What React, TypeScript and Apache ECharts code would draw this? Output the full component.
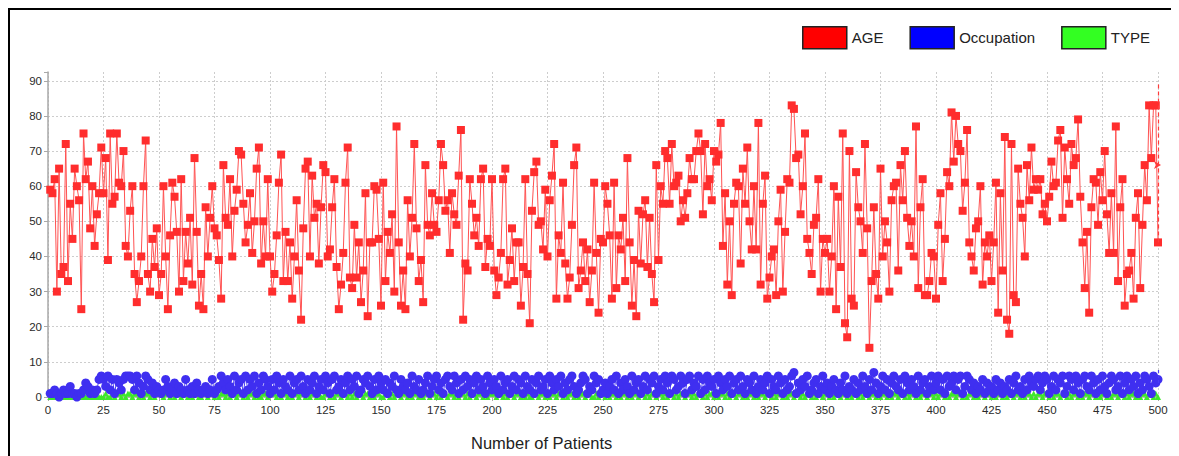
import React, { useEffect, useRef } from 'react';
import * as echarts from 'echarts';

// AGE per patient (patients 1..500)
const ageValues = [
  59,58,62,30,65,35,37,72,33,55,45,65,60,56,25,75,62,67,48,60,43,52,58,71,58,68,39,75,55,57,75,61,60,70,43,40,53,60,35,27,33,40,60,73,35,30,45,37,48,29,
  35,60,40,25,46,61,57,47,30,62,33,47,38,51,32,68,47,26,35,25,54,40,51,60,48,46,39,28,66,51,49,62,40,53,59,70,69,55,44,49,58,41,50,65,71,38,
  50,40,62,40,30,35,46,61,69,33,47,33,44,28,40,56,36,22,48,65,67,40,63,51,55,38,54,66,64,40,42,54,62,37,25,32,41,61,71,34,31,49,34,44,27,36,58,23,44,
  44,60,59,45,26,61,33,47,41,52,30,77,44,26,36,25,56,40,51,72,48,33,39,27,66,49,46,58,49,47,56,72,66,53,56,41,58,52,49,63,76,22,38,36,62,
  55,46,51,43,62,65,37,45,43,62,36,29,34,41,62,65,32,39,48,33,44,44,26,37,62,35,21,53,64,67,49,50,42,59,40,56,63,72,28,46,41,61,38,28,34,49,66,71,31,36,44,33,42,27,
  36,61,41,24,45,44,60,55,46,28,61,31,46,42,51,33,68,44,26,39,23,53,38,52,56,37,51,35,27,66,39,60,55,70,68,55,72,60,61,63,50,56,51,58,68,62,62,70,75,
  70,52,72,60,62,56,70,67,69,78,43,58,32,50,29,55,61,60,38,65,55,71,50,42,60,42,78,32,55,63,28,34,40,42,29,50,59,30,47,62,61,83,82,68,69,52,60,75,45,41,35,
  49,51,62,30,45,41,45,30,40,60,25,57,37,75,21,17,70,28,26,64,54,50,41,72,48,14,33,54,35,28,65,40,50,44,30,56,60,61,36,66,56,70,51,43,50,40,77,31,54,62,
  29,29,33,41,40,28,49,58,33,45,64,60,81,67,80,72,70,53,61,76,44,40,36,48,50,60,32,44,40,46,33,44,61,24,58,36,74,22,18,72,29,27,65,55,51,40,66,56,71,59,
  62,59,62,52,55,50,57,67,60,61,73,76,51,71,62,55,72,66,68,79,57,44,31,47,24,54,62,61,49,64,56,70,52,41,58,41,77,33,54,62,26,35,36,41,28,51,58,31,49,66,56,83,68,83,83,44,
];

// Occupation code per patient
const occupationValues = [
  1,1,2,1,0,1,2,1,1,3,1,1,0,1,1,2,4,3,1,2,1,2,5,6,5,3,6,2,5,1,5,4,2,5,6,6,6,5,2,6,4,1,3,6,5,2,4,1,3,2,
  1,2,5,3,1,2,4,1,3,2,1,5,2,1,3,1,4,2,1,2,3,1,2,5,1,2,3,6,4,2,5,3,1,6,2,4,5,1,6,2,5,3,6,1,4,2,6,5,3,1,
  5,2,6,4,1,5,3,2,6,1,4,5,2,6,3,1,5,2,4,6,1,3,5,2,6,4,1,5,6,2,3,5,1,4,6,2,5,3,6,1,2,5,4,6,3,1,5,2,6,4,
  2,5,1,4,3,6,2,1,5,3,2,4,1,6,3,2,5,1,2,4,6,1,3,5,6,2,4,1,5,6,3,2,6,4,1,5,2,6,3,5,1,4,6,2,5,3,1,6,4,2,
  5,3,1,6,2,4,5,1,3,6,2,5,4,1,6,3,2,5,1,4,6,2,3,5,1,6,4,2,5,3,6,1,4,2,5,6,3,1,2,4,6,5,1,3,2,6,4,5,1,2,
  4,1,3,5,2,6,1,4,2,5,3,1,6,2,4,5,1,3,6,2,5,4,6,1,3,5,2,6,4,1,6,5,2,3,6,4,1,5,6,2,4,3,6,1,5,2,6,4,3,5,
  1,6,4,2,5,3,6,1,4,5,2,6,3,1,5,4,2,6,1,3,5,2,4,6,1,5,3,2,6,4,1,5,2,3,6,7,1,4,2,5,3,6,1,2,4,5,1,3,6,2,
  4,1,3,5,2,1,4,2,6,1,3,2,5,1,4,2,6,3,1,5,2,7,4,1,3,6,2,5,1,4,6,3,2,5,1,6,4,2,5,3,1,6,2,4,5,1,3,6,2,4,
  6,2,5,1,6,3,4,6,2,5,6,1,3,6,5,2,4,1,3,2,5,1,4,2,3,1,5,2,4,1,3,2,5,1,4,6,2,3,1,5,2,6,4,3,5,6,2,4,6,5,
  1,3,6,2,5,4,6,1,3,6,5,2,6,4,1,5,6,3,2,6,4,1,5,2,6,3,1,4,6,5,2,3,6,1,4,6,2,5,3,6,1,4,2,6,5,3,1,6,4,5,
];

// TYPE per patient
const typeValues = [
  0,0,0,0,0,0,0,0,0,0,0,0,0,0,0,0,0,0,0,0,0,0,0,0,0,1,0,0,1,0,1,1,0,1,0,1,1,0,1,1,0,1,0,1,1,0,1,0,1,1,
  1,0,1,1,0,1,0,1,1,0,1,1,0,1,0,1,1,0,0,1,1,0,1,1,0,1,0,1,1,0,1,0,1,1,0,1,1,0,1,0,1,1,0,1,0,0,1,1,0,1,
  1,1,0,1,0,1,1,0,1,0,1,1,0,1,1,0,1,0,1,1,0,1,0,0,1,1,0,1,0,1,1,0,1,1,0,1,0,1,0,1,1,0,1,1,0,1,0,1,1,0,
  0,1,1,0,1,0,1,1,0,1,1,0,1,0,1,1,0,1,0,1,1,0,1,1,0,1,0,1,1,0,1,1,0,1,0,1,1,0,1,0,1,1,0,1,1,0,1,0,1,1,
  1,0,1,1,0,1,0,1,1,0,1,1,0,1,0,1,0,0,1,1,0,1,1,0,1,0,1,1,0,1,1,0,1,0,1,1,0,1,0,1,1,0,1,1,0,0,1,0,1,1,
  0,1,0,1,1,0,1,0,1,1,0,1,0,1,1,0,1,1,0,1,0,1,1,0,1,1,0,1,0,1,1,0,1,0,1,1,0,1,1,0,1,0,1,1,0,1,0,1,1,0,
  1,0,1,1,0,1,0,1,1,0,1,1,0,1,0,1,1,0,1,0,1,1,0,1,1,0,1,0,1,1,0,1,0,1,1,0,1,1,0,1,0,1,1,0,1,0,1,1,0,1,
  1,0,1,0,1,1,0,1,1,0,1,0,1,1,0,1,0,1,1,0,1,1,0,1,0,1,1,0,1,0,1,1,0,1,1,0,1,0,1,1,0,1,0,1,1,0,1,1,0,1,
  0,1,1,0,1,0,1,1,0,1,1,0,1,0,1,1,0,1,0,1,1,0,1,1,0,1,0,1,1,0,1,0,1,1,0,1,1,0,1,0,1,1,0,1,0,1,1,0,1,1,
  0,1,0,1,1,0,1,1,0,1,0,1,1,0,1,0,1,1,0,1,1,0,1,0,1,1,0,1,0,1,1,0,1,1,0,1,0,1,1,0,1,0,1,1,0,1,1,0,1,0,
];

const seriesNames = ['AGE', 'Occupation', 'TYPE'];
const xAxisRange = { min: 0, max: 500, interval: 25 };
const yAxisRange = { min: 0, max: 92.5, interval: 10 };
const lastAgeRange = { low: 44, mid: 66, high: 89 };
const lastOccRange = { low: 4, high: 8 };
const xAxisTitle = 'Number of Patients';

const FONT = "'Liberation Sans', Arial, Helvetica, sans-serif";

export default function App() {
  const ref = useRef<HTMLDivElement>(null);
  useEffect(() => {
    document.body.style.overflow = 'hidden';
    const chart = echarts.init(ref.current as HTMLDivElement, null, { renderer: 'svg' });
    const pts = (arr: number[]) => arr.map((v, i) => [i + 1, v]);
    const splitColors: string[] = [];
    for (let v = yAxisRange.min; v <= yAxisRange.max; v += yAxisRange.interval) splitColors.push('#cdcdcd');
    splitColors.push('transparent');
    const lastX = xAxisRange.max;

    chart.setOption({
      animation: false,
      backgroundColor: '#ffffff',
      textStyle: { fontFamily: FONT },
      legend: {
        data: [
          { name: seriesNames[0], itemStyle: { color: '#ff0000', borderColor: '#222', borderWidth: 1.5 } },
          { name: seriesNames[1], itemStyle: { color: '#0000ff', borderColor: '#222', borderWidth: 1.5 } },
          { name: seriesNames[2], itemStyle: { color: '#33ff22', borderColor: '#222', borderWidth: 1.5 } },
        ],
        icon: 'rect',
        right: 23,
        top: 11,
        itemWidth: 44,
        itemHeight: 22,
        itemGap: 26,
        selectedMode: false,
        textStyle: { fontSize: 15, color: '#222', fontFamily: FONT },
      },
      grid: { left: 38, right: 20, top: 62, bottom: 59 },
      xAxis: {
        type: 'value',
        min: xAxisRange.min,
        max: xAxisRange.max,
        interval: xAxisRange.interval,
        axisLine: { show: true, onZero: false, lineStyle: { color: '#a8a8a8', width: 1.5 } },
        axisTick: { show: true, length: 4, lineStyle: { color: '#a8a8a8' } },
        axisLabel: { color: '#2a2a2a', fontSize: 11.5, margin: 7, fontFamily: FONT },
        splitLine: { show: true, lineStyle: { color: '#cdcdcd', type: [2, 2], width: 1 } },
      },
      yAxis: {
        type: 'value',
        min: yAxisRange.min,
        max: yAxisRange.max,
        interval: yAxisRange.interval,
        axisLine: { show: true, lineStyle: { color: '#a8a8a8', width: 1.5 } },
        axisTick: { show: true, length: 4, lineStyle: { color: '#a8a8a8' } },
        axisLabel: {
          color: '#2a2a2a', fontSize: 11.5, margin: 6, fontFamily: FONT,
          formatter: (v: number) => (v % 10 === 0 ? String(v) : ''),
        },
        splitLine: { show: true, lineStyle: { color: splitColors, type: [2, 2], width: 1 } },
      },
      graphic: [
        {
          type: 'text',
          left: 461,
          top: 424,
          style: { text: xAxisTitle, fontSize: 16.5, fill: '#222', fontFamily: FONT },
        },
      ],
      series: [
        {
          name: seriesNames[0],
          type: 'line',
          z: 4,
          data: pts(ageValues),
          symbol: 'rect',
          symbolSize: 8,
          showAllSymbol: true,
          itemStyle: { color: '#ff2d2d' },
          lineStyle: { color: '#ff5252', width: 1 },
          markLine: {
            silent: true,
            symbol: ['none', 'none'],
            label: { show: false },
            lineStyle: { color: '#ff3b3b', type: [4, 3], width: 1.2 },
            data: [[{ coord: [lastX, lastAgeRange.low] }, { coord: [lastX, lastAgeRange.high] }]],
          },
          markPoint: {
            silent: true,
            symbol: 'arrow',
            symbolSize: [6, 7],
            symbolRotate: -90,
            symbolOffset: [3, 0],
            itemStyle: { color: '#ff3b3b' },
            label: { show: false },
            data: [{ coord: [lastX, lastAgeRange.mid] }],
          },
        },
        {
          name: seriesNames[1],
          type: 'line',
          z: 3,
          data: pts(occupationValues),
          symbol: 'circle',
          symbolSize: 9,
          showAllSymbol: true,
          itemStyle: { color: '#3f2ff0' },
          lineStyle: { color: '#4a3cf5', width: 1 },
          markLine: {
            silent: true,
            symbol: ['none', 'none'],
            label: { show: false },
            lineStyle: { color: '#4a3cf5', type: [3, 2], width: 1.2 },
            data: [[{ coord: [lastX, lastOccRange.low] }, { coord: [lastX, lastOccRange.high] }]],
          },
        },
        {
          name: seriesNames[2],
          type: 'line',
          z: 2,
          data: pts(typeValues),
          symbol: 'triangle',
          symbolSize: 6,
          showAllSymbol: true,
          itemStyle: { color: '#3ee82a' },
          lineStyle: { color: '#3ee82a', width: 1 },
        },
      ],
    });
    return () => chart.dispose();
  }, []);
  return (
    <div style={{ width: 1168, height: 446, borderTop: '2px solid #000', borderLeft: '2px solid #000', background: '#fff' }}>
      <div ref={ref} style={{ width: 1168, height: 446 }} />
    </div>
  );
}
